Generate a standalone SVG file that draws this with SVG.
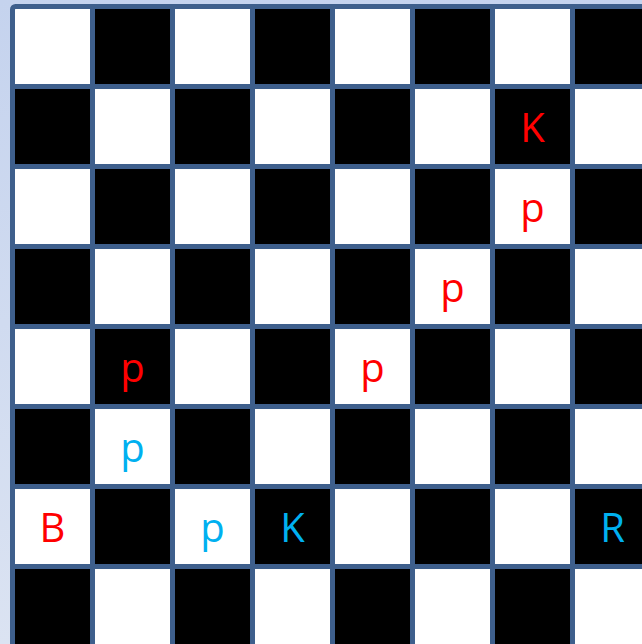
<svg xmlns="http://www.w3.org/2000/svg" width="642" height="644" viewBox="0 0 642 644">
<defs>
<linearGradient id="bg" x1="0" y1="0" x2="0" y2="1">
<stop offset="0" stop-color="#c5d3ee"/>
<stop offset="1" stop-color="#dbe3f2"/>
</linearGradient>
</defs>
<style>
.b{fill:#000}
.g{stroke:#3e5f8c;stroke-width:5;fill:none}
text{font-family:"Open Sans","Liberation Sans",sans-serif;font-size:40px;text-anchor:middle}
.r{fill:#ff0000}
.c{fill:#00b0f0}
</style>
<rect width="642" height="644" fill="url(#bg)"/>
<g id="board">
<rect x="12.5" y="6.5" width="700" height="700" rx="3" fill="#fff"/>
<rect class="b" x="92.5" y="6.5" width="80" height="80"/>
<rect class="b" x="252.5" y="6.5" width="80" height="80"/>
<rect class="b" x="412.5" y="6.5" width="80" height="80"/>
<rect class="b" x="572.5" y="6.5" width="80" height="80"/>
<rect class="b" x="12.5" y="86.5" width="80" height="80"/>
<rect class="b" x="172.5" y="86.5" width="80" height="80"/>
<rect class="b" x="332.5" y="86.5" width="80" height="80"/>
<rect class="b" x="492.5" y="86.5" width="80" height="80"/>
<rect class="b" x="92.5" y="166.5" width="80" height="80"/>
<rect class="b" x="252.5" y="166.5" width="80" height="80"/>
<rect class="b" x="412.5" y="166.5" width="80" height="80"/>
<rect class="b" x="572.5" y="166.5" width="80" height="80"/>
<rect class="b" x="12.5" y="246.5" width="80" height="80"/>
<rect class="b" x="172.5" y="246.5" width="80" height="80"/>
<rect class="b" x="332.5" y="246.5" width="80" height="80"/>
<rect class="b" x="492.5" y="246.5" width="80" height="80"/>
<rect class="b" x="92.5" y="326.5" width="80" height="80"/>
<rect class="b" x="252.5" y="326.5" width="80" height="80"/>
<rect class="b" x="412.5" y="326.5" width="80" height="80"/>
<rect class="b" x="572.5" y="326.5" width="80" height="80"/>
<rect class="b" x="12.5" y="406.5" width="80" height="80"/>
<rect class="b" x="172.5" y="406.5" width="80" height="80"/>
<rect class="b" x="332.5" y="406.5" width="80" height="80"/>
<rect class="b" x="492.5" y="406.5" width="80" height="80"/>
<rect class="b" x="92.5" y="486.5" width="80" height="80"/>
<rect class="b" x="252.5" y="486.5" width="80" height="80"/>
<rect class="b" x="412.5" y="486.5" width="80" height="80"/>
<rect class="b" x="572.5" y="486.5" width="80" height="80"/>
<rect class="b" x="12.5" y="566.5" width="80" height="80"/>
<rect class="b" x="172.5" y="566.5" width="80" height="80"/>
<rect class="b" x="332.5" y="566.5" width="80" height="80"/>
<rect class="b" x="492.5" y="566.5" width="80" height="80"/>
<path class="g" d="M92.5 6.5V660M172.5 6.5V660M252.5 6.5V660M332.5 6.5V660M412.5 6.5V660M492.5 6.5V660M572.5 6.5V660M12.5 86.5H660M12.5 166.5H660M12.5 246.5H660M12.5 326.5H660M12.5 406.5H660M12.5 486.5H660M12.5 566.5H660"/>
<rect class="g" x="12.5" y="6.5" width="700" height="700" rx="3"/>
</g>
<g id="pieces">
<text class="r" x="532.5" y="142">K</text>
<text class="r" x="532.5" y="222">p</text>
<text class="r" x="452.5" y="302">p</text>
<text class="r" x="132.5" y="382">p</text>
<text class="r" x="372.5" y="382">p</text>
<text class="c" x="132.5" y="462">p</text>
<text class="r" x="52.5" y="542">B</text>
<text class="c" x="212.5" y="542">p</text>
<text class="c" x="292.5" y="542">K</text>
<text class="c" x="612.5" y="542">R</text>
</g>
</svg>
